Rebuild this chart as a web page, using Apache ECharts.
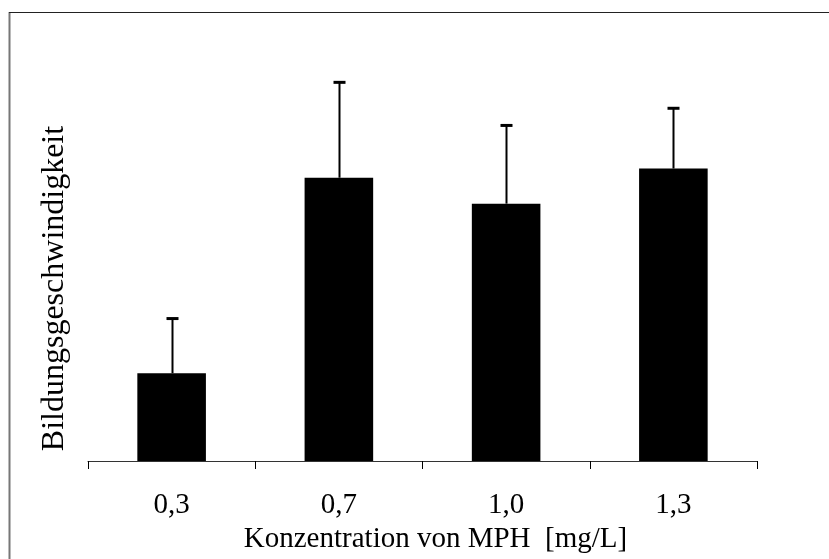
<!DOCTYPE html>
<html>
<head>
<meta charset="utf-8">
<script src="https://cdn.jsdelivr.net/npm/echarts@6/dist/echarts.min.js"></script>
<style>
  html, body { margin: 0; padding: 0; background: #fff; }
  #chart { width: 829px; height: 559px; }
</style>
</head>
<body>
<div id="chart"></div>
<script>
// MPH concentrations (mg/L)
const categories = ['0,3', '0,7', '1,0', '1,3'];
// mean formation rate per concentration (relative units)
const means = [22.0, 71.0, 64.5, 73.3];
// standard deviation (upper error bar)
const errors = [13.7, 23.9, 19.6, 15.1];

const FONT = '"Liberation Serif", "Times New Roman", serif';

const chart = echarts.init(document.getElementById('chart'), null, { renderer: 'canvas' });

const errorData = means.map((m, i) => [i, m, m + errors[i]]);

chart.setOption({
  animation: false,
  backgroundColor: '#fff',
  grid: { left: 88, right: 72, top: 62, bottom: 98, containLabel: false },
  graphic: [
    { type: 'line', shape: { x1: 9.5, y1: 12, x2: 9.5, y2: 559 }, style: { stroke: '#777', lineWidth: 2 } },
    { type: 'line', shape: { x1: 9, y1: 12.5, x2: 829, y2: 12.5 }, style: { stroke: '#222', lineWidth: 1 } }
  ],
  xAxis: {
    type: 'category',
    data: categories,
    name: 'Konzentration von MPH  [mg/L]',
    nameLocation: 'middle',
    nameGap: 45,
    nameTextStyle: { fontFamily: FONT, fontSize: 29, color: '#000', padding: [0, 0, 0, 26] },
    axisLine: { lineStyle: { color: '#333', width: 1 } },
    axisTick: { show: true, length: 8, lineStyle: { color: '#000', width: 1 } },
    axisLabel: { fontFamily: FONT, fontSize: 29, color: '#000', margin: 30 },
    splitLine: { show: false }
  },
  yAxis: {
    type: 'value',
    min: 0,
    max: 100,
    name: 'Bildungsgeschwindigkeit',
    nameLocation: 'middle',
    nameRotate: 90,
    nameGap: 17,
    nameTextStyle: { fontFamily: FONT, fontSize: 32, color: '#000', padding: [0, 54, 0, 0] },
    axisLine: { show: false },
    axisTick: { show: false },
    axisLabel: { show: false },
    splitLine: { show: false }
  },
  series: [
    {
      type: 'bar',
      data: means,
      barWidth: '41%',
      itemStyle: { color: '#000' },
      z: 2
    },
    {
      type: 'custom',
      data: errorData,
      z: 3,
      renderItem: function (params, api) {
        const i = api.value(0);
        const low = api.coord([i, api.value(1)]);
        const high = api.coord([i, api.value(2)]);
        const x = Math.round(low[0]) + 0.5;
        return {
          type: 'group',
          children: [
            { type: 'line', shape: { x1: x, y1: low[1], x2: x, y2: high[1] }, style: { stroke: '#000', lineWidth: 2 } },
            { type: 'line', shape: { x1: x - 6, y1: high[1], x2: x + 6, y2: high[1] }, style: { stroke: '#000', lineWidth: 3 } }
          ]
        };
      }
    }
  ]
});
</script>
</body>
</html>
